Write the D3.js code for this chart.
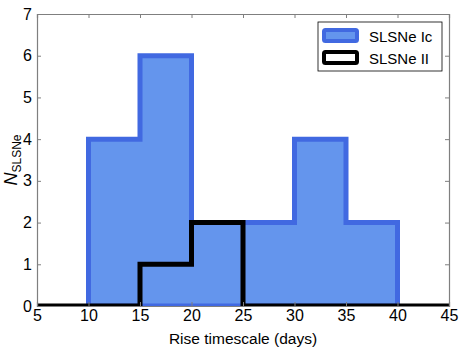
<!DOCTYPE html>
<html>
<head>
<meta charset="utf-8">
<script src="https://cdn.jsdelivr.net/npm/d3@7"></script>
<style>
body { margin: 0; background: #fff; }
</style>
</head>
<body>
<div id="chart"></div>
<script>
// histogram bin edges (days) and counts per bin
var binEdges = [5, 10, 15, 20, 25, 30, 35, 40, 45];
var icCounts = [0, 4, 6, 2, 2, 4, 2, 0];
var iiCounts = [0, 0, 1, 2, 0, 0, 0, 0];
var xTicks = [5, 10, 15, 20, 25, 30, 35, 40, 45];
var yTicks = [0, 1, 2, 3, 4, 5, 6, 7];
var seriesNames = ["SLSNe Ic", "SLSNe II"];

var W = 463, H = 350;
var m = {left: 37, right: 14, top: 14, bottom: 44};

var svg = d3.select("#chart").append("svg")
    .attr("width", W).attr("height", H);

var xScale = d3.scaleLinear().domain([5, 45]).range([m.left, W - m.right]);
var yScale = d3.scaleLinear().domain([0, 7]).range([H - m.bottom, m.top]);

svg.append("clipPath").attr("id", "plotclip")
    .append("rect")
    .attr("x", m.left).attr("y", m.top)
    .attr("width", W - m.left - m.right)
    .attr("height", H - m.top - m.bottom);

// build step outline from edges + counts
function stepPoints(edges, counts, lo, hi) {
    var pts = [];
    for (var i = 0; i < counts.length; i++) {
        if (edges[i] < lo || edges[i + 1] > hi) continue;
        pts.push([edges[i], counts[i]]);
        pts.push([edges[i + 1], counts[i]]);
    }
    return pts;
}

var line = d3.line()
    .x(function(d) { return xScale(d[0]); })
    .y(function(d) { return yScale(d[1]); });

var plot = svg.append("g").attr("clip-path", "url(#plotclip)");

// Ic filled histogram (between 10 and 40)
var icPts = stepPoints(binEdges, icCounts, 10, 40);
icPts.unshift([10, 0]);
icPts.push([40, 0]);
plot.append("path")
    .datum(icPts)
    .attr("d", function(d) { return line(d) + "Z"; })
    .attr("fill", "#6495ed")
    .attr("stroke", "#4169e1")
    .attr("stroke-width", 5)
    .attr("stroke-linejoin", "miter");

// II step histogram over full range
var iiPts = stepPoints(binEdges, iiCounts, 5, 45);
plot.append("path")
    .datum(iiPts)
    .attr("d", line)
    .attr("fill", "none")
    .attr("stroke", "#000")
    .attr("stroke-width", 5)
    .attr("stroke-linejoin", "miter");

// axes frame
var axisColor = "#7f7f7f";
var axBottom = svg.append("g")
    .attr("transform", "translate(0," + (H - m.bottom) + ")")
    .call(d3.axisBottom(xScale).tickValues(xTicks).tickSize(-4).tickPadding(4).tickFormat(d3.format("d")));
var axTop = svg.append("g")
    .attr("transform", "translate(0," + m.top + ")")
    .call(d3.axisTop(xScale).tickValues(xTicks).tickSize(-4).tickFormat(""));
var axLeft = svg.append("g")
    .attr("transform", "translate(" + m.left + ",0)")
    .call(d3.axisLeft(yScale).tickValues(yTicks).tickSize(-4).tickPadding(5).tickFormat(d3.format("d")));
var axRight = svg.append("g")
    .attr("transform", "translate(" + (W - m.right) + ",0)")
    .call(d3.axisRight(yScale).tickValues(yTicks).tickSize(-4).tickFormat(""));

[axBottom, axTop, axLeft, axRight].forEach(function(g) {
    g.select(".domain").attr("stroke", axisColor).attr("stroke-width", 1.2);
    g.selectAll(".tick line").attr("stroke", axisColor);
    g.selectAll(".tick text").attr("fill", "#000");
});
axLeft.selectAll(".tick text").attr("x", -5);

// axis labels
svg.append("text")
    .attr("x", (m.left + W - m.right) / 2)
    .attr("y", H - 6)
    .attr("text-anchor", "middle")
    .attr("font-size", 15.5)
    .text("Rise timescale (days)");

var ylab = svg.append("text")
    .attr("transform", "translate(17," + ((m.top + H - m.bottom) / 2) + ") rotate(-90)")
    .attr("text-anchor", "middle")
    .attr("font-size", 18);
ylab.append("tspan").attr("font-style", "italic").text("N");
ylab.append("tspan").attr("dy", 4).attr("font-size", 12).text("SLSNe");

// legend
var lg = svg.append("g").attr("transform", "translate(318,22)");
lg.append("rect")
    .attr("width", 124).attr("height", 49)
    .attr("fill", "#fff").attr("stroke", "#000").attr("stroke-width", 0.8);
var legendStyles = [
    {fill: "#6495ed", stroke: "#4169e1"},
    {fill: "#fff", stroke: "#000"}
];
seriesNames.forEach(function(name, i) {
    var yy = 8 + i * 22;
    lg.append("rect")
        .attr("x", 6).attr("y", yy)
        .attr("width", 33).attr("height", 11)
        .attr("rx", 1.5)
        .attr("fill", legendStyles[i].fill)
        .attr("stroke", legendStyles[i].stroke)
        .attr("stroke-width", 4);
    lg.append("text")
        .attr("x", 51).attr("y", yy + 12)
        .attr("font-size", 15)
        .text(name);
});

// every text in Liberation Sans, inline so it wins over axis defaults
svg.selectAll("text").style("font-family", "'Liberation Sans'");
axBottom.selectAll(".tick text").style("font-size", "16px");
axLeft.selectAll(".tick text").style("font-size", "16px");
</script>
</body>
</html>
